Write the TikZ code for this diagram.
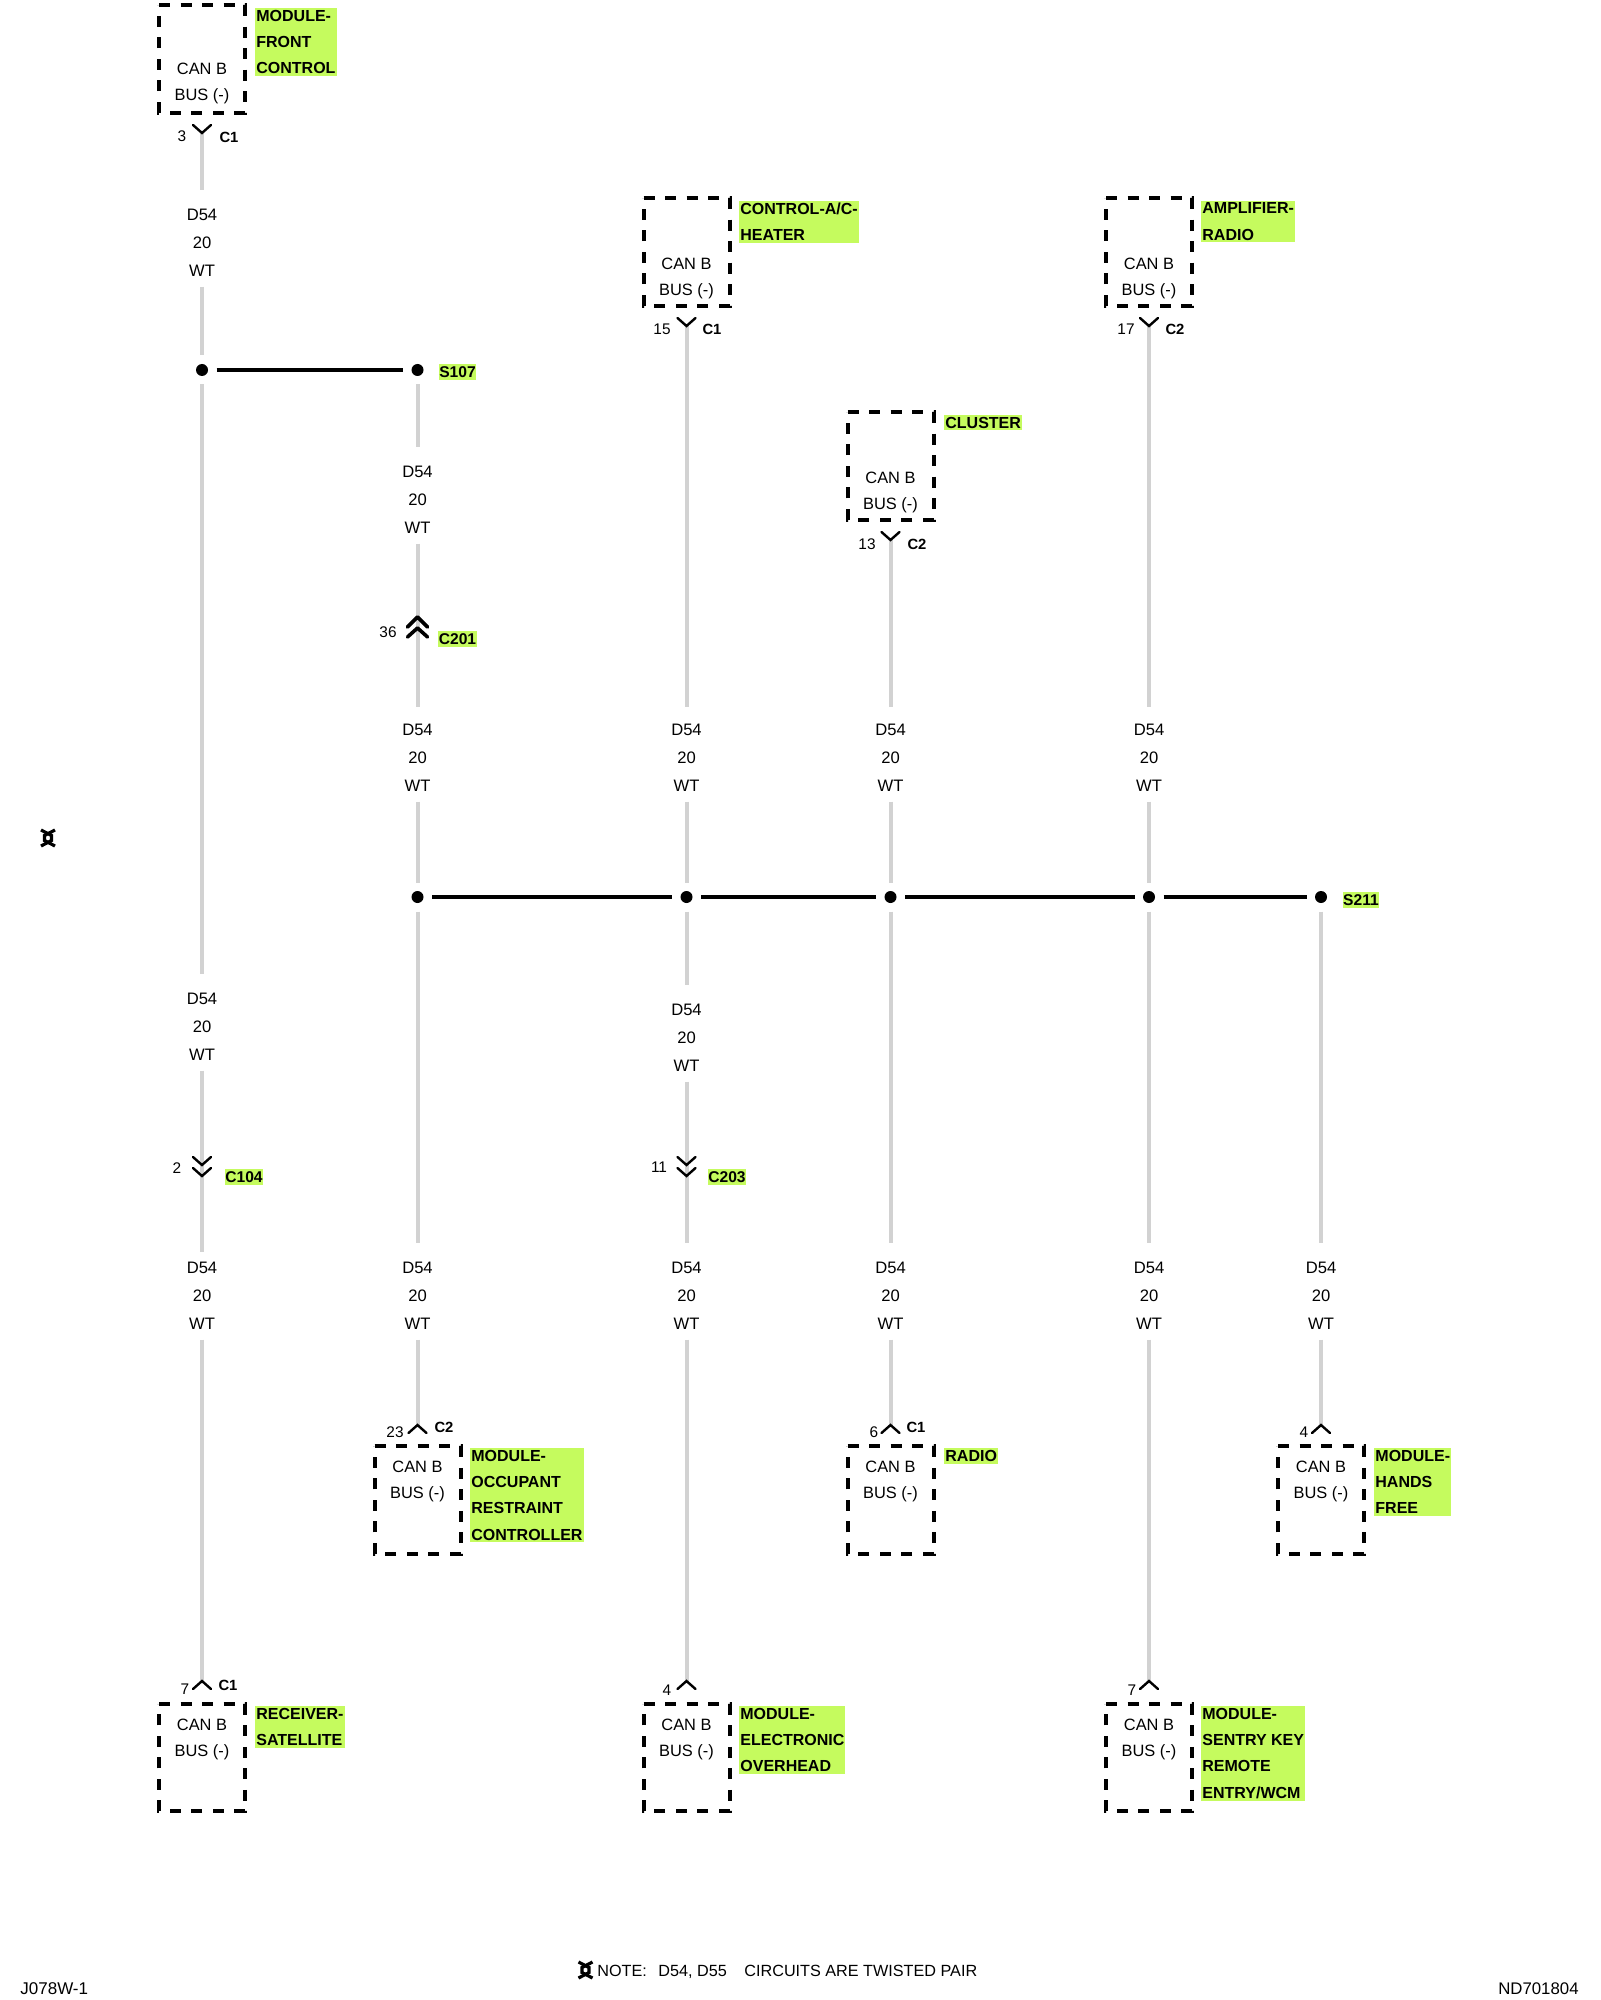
\documentclass[tikz,border=0pt]{standalone}
\usepackage{fontspec}
\setmainfont{Liberation Sans}
\definecolor{hl}{HTML}{C5FB5E}
\definecolor{wiregray}{HTML}{D2D2D2}
\tikzset{
  wire/.style={draw=wiregray,line width=2pt},
  wireto/.style={wire,shorten >=4.5pt},
  wirelong/.style={wire,shorten >=3.5pt},
  bar/.style={draw=black,line width=2pt},
  chev/.style={draw=black,line width=1.2pt,line cap=round,line join=miter},
  chevb/.style={draw=black,line width=1.8pt,line cap=round,line join=round},
  twist/.style={draw=black,line width=1.6pt},
  splice/.style={circle,fill=black,inner sep=0pt,minimum size=6pt,outer sep=4.25pt},
  busbox/.style={minimum width=43pt,minimum height=53.75pt,inner sep=0pt,outer sep=0pt},
  boxline/.style={draw=black,line width=2pt,dash pattern=on 5.5pt off 5.25pt},
  bustext/.style={font=\fontsize{8.2}{13}\selectfont,align=center,inner sep=0pt},
  wl/.style={font=\fontsize{8.3}{14}\selectfont,align=center,inner xsep=0pt,inner ysep=5pt,outer sep=0pt},
  pin/.style={font=\fontsize{7.7}{9}\selectfont,inner sep=0pt},
  conn/.style={font=\bfseries\fontsize{7.4}{9}\selectfont,inner sep=0pt},
  tag/.style={fill=hl,font=\bfseries\fontsize{8}{13.1}\selectfont,align=left,anchor=north west,inner xsep=0.5pt,inner ysep=1pt},
  small/.style={fill=hl,font=\bfseries\fontsize{7.8}{9}\selectfont,inner xsep=0.3pt,inner ysep=1pt},
  foot/.style={font=\fontsize{8.1}{10}\selectfont,inner sep=0pt,anchor=base west},
}
\newcommand{\chevd}[1]{\draw[chev] ([shift={(-9,-8)}]#1) -- (#1) -- ([shift={(9,-8)}]#1);}
\newcommand{\chevu}[1]{\draw[chev] ([shift={(-9,8)}]#1) -- (#1) -- ([shift={(9,8)}]#1);}
\newcommand{\twistmark}[1]{%
  \draw[twist] ([shift={(-7,-8)}]#1) -- ([shift={(3.5,-2.5)}]#1) -- ([shift={(3.5,2.5)}]#1) -- ([shift={(-7,8)}]#1);
  \draw[twist] ([shift={(7,-8)}]#1) -- ([shift={(-3.5,-2.5)}]#1) -- ([shift={(-3.5,2.5)}]#1) -- ([shift={(7,8)}]#1);}
\newcommand{\outlinebox}[1]{\draw[boxline] (#1.north west) -- (#1.north east) -- (#1.south east) -- (#1.south west) -- (#1.north west);}
\newcommand{\bustxt}{CAN B\\\leavevmode\smash{BUS (-)}}
\begin{document}
\begin{tikzpicture}[x=0.5pt,y=-0.5pt]
\useasboundingbox (0,0) rectangle (1600,2000);
\fill[white] (0,0) rectangle (1600,2000);
% boxes
\node[busbox] (b1) at (202,59) {};
\node[bustext] (t1) at (202,82) {\bustxt};
\node[tag] (l1) at (255,8) {MODULE-\\FRONT\\CONTROL};
\node[busbox] (b2) at (686.5,252) {};
\node[bustext] (t2) at (686.5,277) {\bustxt};
\node[tag] (l2) at (739,200.5) {CONTROL-A/C-\\HEATER};
\node[busbox] (b3) at (1149,252) {};
\node[bustext] (t3) at (1149,277) {\bustxt};
\node[tag] (l3) at (1201,200.5) {AMPLIFIER-\\RADIO};
\node[busbox] (b4) at (890.5,466) {};
\node[bustext] (t4) at (890.5,491) {\bustxt};
\node[tag] (l4) at (944,414.5) {CLUSTER};
\node[busbox] (b5) at (417.5,1500) {};
\node[bustext] (t5) at (417.5,1480) {\bustxt};
\node[tag] (l5) at (470,1448) {MODULE-\\OCCUPANT\\RESTRAINT\\CONTROLLER};
\node[busbox] (b6) at (890.5,1500) {};
\node[bustext] (t6) at (890.5,1480) {\bustxt};
\node[tag] (l6) at (944,1448) {RADIO};
\node[busbox] (b7) at (1321,1500) {};
\node[bustext] (t7) at (1321,1480) {\bustxt};
\node[tag] (l7) at (1374,1448) {MODULE-\\HANDS\\FREE};
\node[busbox] (b8) at (202,1757.5) {};
\node[bustext] (t8) at (202,1738) {\bustxt};
\node[tag] (l8) at (255,1706) {RECEIVER-\\SATELLITE};
\node[busbox] (b9) at (686.5,1757.5) {};
\node[bustext] (t9) at (686.5,1738) {\bustxt};
\node[tag] (l9) at (739,1706) {MODULE-\\ELECTRONIC\\OVERHEAD};
\node[busbox] (b10) at (1149,1757.5) {};
\node[bustext] (t10) at (1149,1738) {\bustxt};
\node[tag] (l10) at (1201,1706) {MODULE-\\SENTRY KEY\\REMOTE\\ENTRY/WCM};
\outlinebox{b1}\outlinebox{b2}\outlinebox{b3}\outlinebox{b4}\outlinebox{b5}
\outlinebox{b6}\outlinebox{b7}\outlinebox{b8}\outlinebox{b9}\outlinebox{b10}
% wire labels
\node[wl] (a1) at (202,243) {D54\\20\\WT};
\node[wl] (a2) at (202,1027) {D54\\20\\WT};
\node[wl] (a3) at (202,1296) {D54\\20\\WT};
\node[wl] (a4) at (417.5,500) {D54\\20\\WT};
\node[wl] (a5) at (417.5,758) {D54\\20\\WT};
\node[wl] (a6) at (417.5,1296) {D54\\20\\WT};
\node[wl] (a7) at (686.5,758) {D54\\20\\WT};
\node[wl] (a8) at (686.5,1038) {D54\\20\\WT};
\node[wl] (a9) at (686.5,1296) {D54\\20\\WT};
\node[wl] (a10) at (890.5,758) {D54\\20\\WT};
\node[wl] (a11) at (890.5,1296) {D54\\20\\WT};
\node[wl] (a12) at (1149,758) {D54\\20\\WT};
\node[wl] (a13) at (1149,1296) {D54\\20\\WT};
\node[wl] (a14) at (1321,1296) {D54\\20\\WT};
% splices
\node[splice] (j1) at (202,370) {};
\node[splice] (j2) at (417.5,370) {};
\node[splice] (k1) at (417.5,897) {};
\node[splice] (k2) at (686.5,897) {};
\node[splice] (k3) at (890.5,897) {};
\node[splice] (k4) at (1149,897) {};
\node[splice] (k5) at (1321,897) {};
\node[small] (s107) at (457.5,372) {S107};
\node[small] (s211) at (1361,900) {S211};
% connector points
\coordinate (c1) at (202,133);
\coordinate (c2) at (686.5,326);
\coordinate (c3) at (1149,326);
\coordinate (c4) at (890.5,540);
\coordinate (c5a) at (202,1165);
\coordinate (c5b) at (202,1176);
\coordinate (c6a) at (417.5,617);
\coordinate (c6b) at (417.5,628);
\coordinate (c7a) at (686.5,1165);
\coordinate (c7b) at (686.5,1176);
\coordinate (c8) at (417.5,1425);
\coordinate (c9) at (890.5,1425);
\coordinate (c10) at (1321,1425);
\coordinate (c11) at (202,1681);
\coordinate (c12) at (686.5,1681);
\coordinate (c13) at (1149,1681);
% wires
\draw[wireto] (c1) -- (a1.north);
\draw[wire] (a1.south) -- (j1.north);
\draw[wireto] (j1.south) -- (a2.north);
\draw[wire] (a2.south) -- (c5a) -- (c5b) -- (a3.north);
\draw[wire] (a3.south) -- (c11);
\draw[wireto] (j2.south) -- (a4.north);
\draw[wire] (a4.south) -- (c6a) -- (c6b);
\draw[wirelong] (c6b) -- (a5.north);
\draw[wire] (a5.south) -- (k1.north);
\draw[wireto] (k1.south) -- (a6.north);
\draw[wire] (a6.south) -- (c8);
\draw[wirelong] (c2) -- (a7.north);
\draw[wire] (a7.south) -- (k2.north);
\draw[wireto] (k2.south) -- (a8.north);
\draw[wire] (a8.south) -- (c7a) -- (c7b);
\draw[wireto] (c7b) -- (a9.north);
\draw[wire] (a9.south) -- (c12);
\draw[wirelong] (c4) -- (a10.north);
\draw[wire] (a10.south) -- (k3.north);
\draw[wireto] (k3.south) -- (a11.north);
\draw[wire] (a11.south) -- (c9);
\draw[wirelong] (c3) -- (a12.north);
\draw[wire] (a12.south) -- (k4.north);
\draw[wireto] (k4.south) -- (a13.north);
\draw[wire] (a13.south) -- (c13);
\draw[wireto] (k5.south) -- (a14.north);
\draw[wire] (a14.south) -- (c10);
% buses
\draw[bar] (j1.east) -- (j2.west);
\draw[bar] (k1.east) -- (k2.west);
\draw[bar] (k2.east) -- (k3.west);
\draw[bar] (k3.east) -- (k4.west);
\draw[bar] (k4.east) -- (k5.west);
% chevrons
\chevd{c1}\chevd{c2}\chevd{c3}\chevd{c4}
\chevd{c5a}\chevd{c5b}\chevd{c7a}\chevd{c7b}
\draw[chevb] ([shift={(-10,10)}]c6a) -- (c6a) -- ([shift={(10,10)}]c6a);
\draw[chevb] ([shift={(-10,9)}]c6b) -- (c6b) -- ([shift={(10,9)}]c6b);
\chevu{c8}\chevu{c9}\chevu{c10}\chevu{c11}\chevu{c12}\chevu{c13}
% pins
\node[pin] (p1) at (182,136) {3};
\node[conn] (n1) at (229,137) {C1};
\node[pin] (p2) at (662,329) {15};
\node[conn] (n2) at (712,329) {C1};
\node[pin] (p3) at (1126,329) {17};
\node[conn] (n3) at (1175,329) {C2};
\node[pin] (p4) at (867,544) {13};
\node[conn] (n4) at (917,544) {C2};
\node[pin] (p5) at (177,1168) {2};
\node[small] (n5) at (244,1177) {C104};
\node[pin] (p6) at (388,632) {36};
\node[small] (n6) at (457.5,639) {C201};
\node[pin] (p7) at (659,1167) {11};
\node[small] (n7) at (727,1177) {C203};
\node[pin] (p8) at (395,1432) {23};
\node[conn] (n8) at (444,1427) {C2};
\node[pin] (p9) at (874,1432) {6};
\node[conn] (n9) at (916,1427) {C1};
\node[pin] (p10) at (1304,1432) {4};
\node[pin] (p11) at (185,1689) {7};
\node[conn] (n11) at (228,1685) {C1};
\node[pin] (p12) at (667,1690) {4};
\node[pin] (p13) at (1132,1690) {7};
% twist marks and notes
\coordinate (tw1) at (48,838);
\coordinate (tw2) at (585.5,1970);
\twistmark{tw1}
\twistmark{tw2}
\node[foot] (f1) at (597,1976) {NOTE:};
\node[foot] (f2) at (658,1976) {D54, D55};
\node[foot] (f3) at (744,1976) {CIRCUITS ARE TWISTED PAIR};
\node[foot,font=\fontsize{8.5}{10}\selectfont] (f4) at (20,1994) {J078W-1};
\node[foot,anchor=base east,font=\fontsize{8.4}{10}\selectfont] (f5) at (1579,1994) {ND701804};
\end{tikzpicture}
\end{document}
